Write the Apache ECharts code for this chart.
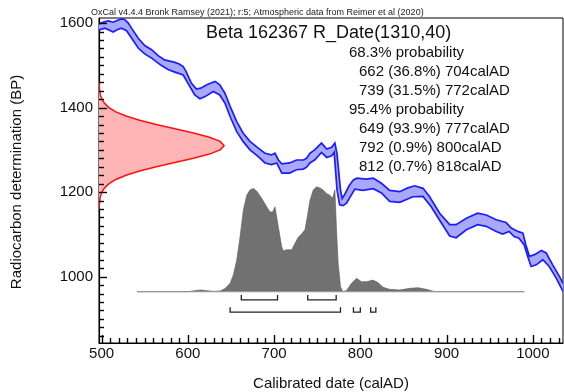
<!DOCTYPE html>
<html>
<head>
<meta charset="utf-8">
<script src="https://cdn.jsdelivr.net/npm/echarts@6/dist/echarts.min.js"></script>
<style>
html,body{margin:0;padding:0;background:#fff;}
#chart{width:564px;height:392px;}
</style>
</head>
<body>
<div id="chart"></div>
<script>
// ---------- data ----------
const xTickLabels = [500, 600, 700, 800, 900, 1000];
const yTickLabels = [1000, 1200, 1400, 1600];

const headerText = 'OxCal v4.4.4 Bronk Ramsey (2021); r:5; Atmospheric data from Reimer et al (2020)';
const dateTitle = 'Beta 162367 R_Date(1310,40)';
const statLines = [
  ['68.3% probability', 0],
  ['662 (36.8%) 704calAD', 1],
  ['739 (31.5%) 772calAD', 1],
  ['95.4% probability', 0],
  ['649 (93.9%) 777calAD', 1],
  ['792 (0.9%) 800calAD', 1],
  ['812 (0.7%) 818calAD', 1]
];

// calibration curve band: [calAD, BP]
const curveUpper = [
  [497,1598],[503,1603],[508,1605],[513.5,1602],[518,1606],[523,1610],[527,1608],[531,1600],
  [534.7,1588],[542.5,1564],[550,1547],[558,1537],[565.6,1523],[573,1513],[579,1510],[585,1507],
  [590,1503],[594.6,1497],[598,1485],[604,1458],[610,1444],[615,1446],[622,1454],[631.6,1462],
  [637,1454],[643,1434],[649,1403],[656.7,1367],[664,1340],[672,1320],[681.7,1304],[689.5,1292],
  [697,1288],[701,1292],[705,1276],[709,1267],[718,1269],[726,1276],[734,1276],[737.7,1280],
  [741.5,1292],[747,1300],[755,1316],[761,1302],[766.7,1306],[770.5,1316],[773,1290],[777,1205],
  [779,1185],[782,1195],[787,1215],[792,1229],[796,1233],[807,1231],[815,1233],[824.5,1221],
  [834,1204],[845.7,1201],[855,1210],[863,1215],[872.7,1209],[880,1190],[892,1150],[903.6,1123],
  [911,1123],[923,1138],[936,1150],[946,1146],[957.6,1134.5],[969,1128],[975,1115],[982.6,1107],
  [988.5,1103],[992,1075],[996,1048],[1002,1052],[1010,1062],[1015.5,1056],[1023,1028],[1031,1000],
  [1035,984]
];
const curveLower = [
  [497,1584],[504,1588],[513.5,1579],[518,1584],[523,1588],[529,1582],[534.7,1564.5],[542.5,1541],
  [550,1527],[558,1517],[569,1500],[577,1490],[585,1484],[594.6,1477],[600,1458],[608,1430],
  [614,1421],[620,1426],[629.6,1438],[637,1430],[643,1411],[649,1379],[656.7,1343],[664,1320],
  [672,1300],[681.7,1284],[689.5,1269],[697,1265],[703,1269],[709,1245],[718,1245],[726,1253],
  [734,1254.5],[737.7,1259],[741.5,1269],[747,1276],[755,1294],[761,1282],[766.7,1286],[769.7,1294],
  [773,1205],[776,1170],[780,1168],[784,1174],[793.6,1207],[803,1204],[815,1208],[824.5,1198],
  [834,1178],[845.7,1176],[861,1189],[872.7,1190],[882,1166],[894,1127],[903.6,1096],[911,1092],
  [923,1111],[936,1123],[946,1119],[957.6,1107],[965,1101],[972.5,1107],[978.4,1095],[984,1091],
  [990,1075],[994,1048],[998,1024],[1004,1028],[1011.6,1040],[1019,1024],[1027,997],[1035,965]
];

// radiocarbon date distribution (relative density by BP)
const rDateBP = [1460,1450,1440,1430,1420,1410,1400,1390,1380,1370,1360,1350,1340,1330,1320,1310,
  1300,1290,1280,1270,1260,1250,1240,1230,1220,1210,1200,1190,1180,1170,1160];
const rDateDensity = [0.001,0.002,0.005,0.011,0.023,0.044,0.080,0.135,0.216,0.325,0.458,0.607,0.755,0.883,0.969,1.0,
  0.969,0.883,0.755,0.607,0.458,0.325,0.216,0.135,0.080,0.044,0.023,0.011,0.005,0.002,0.001];

// calibrated date distribution (relative probability by calAD)
const calYear = [541,600,607,615,623,630,637.4,643.2,649,652.8,656.7,660.5,664.4,668.3,672,676,679.8,
  685.6,691.4,695.3,698.4,701,704.9,708.8,710.6,714.6,720.4,724.2,728,731.9,735.8,738.4,741.6,745.4,
  749.3,753.1,757,760.1,764.7,767.8,770.5,772.4,774.3,777,779.4,780,784,789.8,795.6,801.4,807.2,
  814.8,820.6,826.4,834.1,845.7,857.3,867,876.6,886.2,990];
const calProb = [0,0,0.008,0.016,0.008,0.003,0.006,0.03,0.08,0.16,0.30,0.52,0.78,0.92,0.97,0.985,0.96,
  0.89,0.81,0.76,0.76,0.81,0.62,0.43,0.39,0.40,0.40,0.46,0.52,0.55,0.59,0.71,0.87,0.97,
  1.0,0.99,0.97,0.94,0.92,0.89,0.97,0.59,0.27,0.05,0.006,0,0.01,0.08,0.127,0.095,0.095,
  0.11,0.086,0.041,0.022,0.016,0.032,0.038,0.022,0,0];

const range68 = [[662,704],[739,772]];
const range95 = [[649,777],[792,800],[812,818]];

// ---------- layout constants ----------
const xMin = 497, xMax = 1035, yMin = 843, yMax = 1612;
const rDateWidth = 145;      // calendar years spanned by the peak of the R_Date curve
const distBase = 964.5;      // BP level of the calibrated distribution baseline
const distHeight = 248;      // BP span of the calibrated distribution peak
const bar68BP = 945, bar95BP = 916;
const FONT = '"Liberation Sans", Arial, Helvetica, sans-serif';

const xMinorTicks = [];
for (let v = 500; v <= 1030; v += 10) xMinorTicks.push(v);
const yMinorTicks = [];
for (let v = 860; v <= 1600; v += 20) yMinorTicks.push(v);

const chart = echarts.init(document.getElementById('chart'), null, {renderer: 'canvas'});

function renderCurve(params, api) {
  const up = curveUpper.map(p => api.coord(p));
  const lo = curveLower.map(p => api.coord(p));
  return {
    type: 'group',
    children: [
      {type: 'polygon', shape: {points: up.concat(lo.slice().reverse())}, style: {fill: '#a9a9fb', stroke: null}},
      {type: 'polyline', shape: {points: up}, style: {fill: null, stroke: '#1c1cff', lineWidth: 1.7}},
      {type: 'polyline', shape: {points: lo}, style: {fill: null, stroke: '#1c1cff', lineWidth: 1.7}}
    ]
  };
}

function renderRDate(params, api) {
  const pts = rDateBP.map((bp, i) => api.coord([xMin + rDateDensity[i] * rDateWidth, bp]));
  const poly = [api.coord([xMin, rDateBP[0]])].concat(pts, [api.coord([xMin, rDateBP[rDateBP.length - 1]])]);
  return {
    type: 'group',
    children: [
      {type: 'polygon', shape: {points: poly}, style: {fill: '#ffb5b5', stroke: null}},
      {type: 'polyline', shape: {points: pts}, style: {fill: null, stroke: '#ff1010', lineWidth: 1.5}}
    ]
  };
}

function renderCal(params, api) {
  const pts = calYear.map((y, i) => api.coord([y, distBase + calProb[i] * distHeight]));
  const b0 = api.coord([calYear[0], distBase]);
  const b1 = api.coord([calYear[calYear.length - 1], distBase]);
  return {
    type: 'group',
    children: [
      {type: 'polygon', shape: {points: [b0].concat(pts, [b1])}, style: {fill: '#717171', stroke: '#5a5a5a', lineWidth: 0.6}},
      {type: 'line', shape: {x1: b0[0], y1: b0[1], x2: b1[0], y2: b1[1]}, style: {stroke: '#9a9a9a', lineWidth: 1}}
    ]
  };
}

function renderRanges(params, api) {
  const children = [];
  const tick = 5;
  function add(list, bp) {
    list.forEach(r => {
      const a = api.coord([r[0], bp]);
      const b = api.coord([r[1], bp]);
      children.push({type: 'polyline', shape: {points: [[a[0], a[1] - tick], a, b, [b[0], b[1] - tick]]},
        style: {fill: null, stroke: '#222', lineWidth: 1.3}});
    });
  }
  add(range68, bar68BP);
  add(range95, bar95BP);
  return {type: 'group', children};
}

// axis ticks (inside), placed through the axis scales
function renderTicks(params, api) {
  const children = [];
  const o = api.coord([xMin, yMin]);
  xMinorTicks.forEach(v => {
    const p = api.coord([v, yMin]);
    const len = xTickLabels.indexOf(v) >= 0 ? 8 : 5;
    children.push({type: 'rect', shape: {x: Math.round(p[0]) - 0.2, y: o[1] - len, width: 1.4, height: len},
      style: {fill: '#000'}});
  });
  yMinorTicks.forEach(v => {
    const p = api.coord([xMin, v]);
    const len = yTickLabels.indexOf(v) >= 0 ? 8 : 5;
    children.push({type: 'rect', shape: {x: o[0], y: Math.round(p[1]) - 0.2, width: len, height: 1.4},
      style: {fill: '#000'}});
  });
  return {type: 'group', children};
}

const graphics = [
  {type: 'text', left: 91, top: 8, style: {text: headerText, font: '9px ' + FONT, fill: '#222'}},
  {type: 'text', left: 206, top: 24, style: {text: dateTitle, font: '18px ' + FONT, fill: '#111'}},
  {type: 'text', x: 17, y: 182, rotation: Math.PI / 2,
    style: {text: 'Radiocarbon determination (BP)', font: '15px ' + FONT, fill: '#111', align: 'center', verticalAlign: 'middle'}},
  {type: 'text', x: 331, y: 384,
    style: {text: 'Calibrated date (calAD)', font: '15px ' + FONT, fill: '#111', align: 'center', verticalAlign: 'middle'}}
];
statLines.forEach((s, i) => {
  graphics.push({type: 'text', x: s[1] ? 359 : 349, y: 52.5 + i * 19,
    style: {text: s[0], font: '15px ' + FONT, fill: '#111', verticalAlign: 'middle'}});
});

const option = {
  animation: false,
  backgroundColor: '#fff',
  grid: {left: 99, top: 18, width: 464, height: 325, show: true, borderColor: '#000', borderWidth: 1, containLabel: false},
  xAxis: {type: 'value', min: xMin, max: xMax, position: 'bottom',
    axisLine: {show: true, onZero: false, lineStyle: {color: '#000', width: 1.2}},
    axisTick: {show: false},
    axisLabel: {show: true, customValues: xTickLabels, formatter: v => String(v), fontSize: 15, fontFamily: FONT, color: '#111', margin: 3},
    splitLine: {show: false}},
  yAxis: {type: 'value', min: yMin, max: yMax, position: 'left',
    axisLine: {show: true, onZero: false, lineStyle: {color: '#000', width: 1.2}},
    axisTick: {show: false},
    axisLabel: {show: true, customValues: yTickLabels, formatter: v => String(v), fontSize: 15, fontFamily: FONT, color: '#111', margin: 6},
    splitLine: {show: false}},
  series: [
    {type: 'custom', name: 'R_Date', clip: true, renderItem: renderRDate, data: [0], z: 2},
    {type: 'custom', name: 'Calibration curve', clip: true, renderItem: renderCurve, data: [0], z: 3},
    {type: 'custom', name: 'Calibrated date', clip: true, renderItem: renderCal, data: [0], z: 4},
    {type: 'custom', name: 'Ranges', clip: true, renderItem: renderRanges, data: [0], z: 5},
    {type: 'custom', name: 'Ticks', clip: false, renderItem: renderTicks, data: [0], z: 6}
  ],
  graphic: graphics
};
chart.setOption(option);
</script>
</body>
</html>
